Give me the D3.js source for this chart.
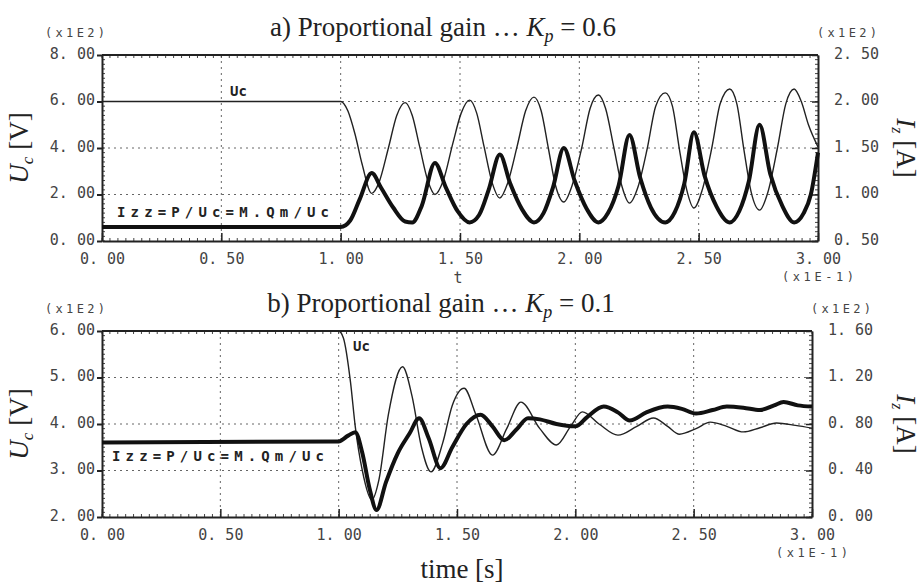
<!DOCTYPE html>
<html>
<head>
<meta charset="utf-8">
<script src="https://cdn.jsdelivr.net/npm/d3@7"></script>
<style>
  body { margin: 0; background: #fff; }
  .tick-lbl { font-family: "DejaVu Sans Mono", monospace; font-size: 15px; fill: #444; }
  .exp-lbl { font-family: "DejaVu Sans Mono", monospace; font-size: 12px; fill: #444; }
  .ser-lbl { font-family: "DejaVu Sans Mono", monospace; font-size: 14px; font-weight: bold; fill: #222; }
  .title { font-family: "Liberation Serif", "Times New Roman", serif; font-size: 27px; fill: #222; }
</style>
</head>
<body>
<div id="chart"></div>
<script>
// time axis (x 0.1 s), shared by both panels
const timeTicks = [0, 0.5, 1.0, 1.5, 2.0, 2.5, 3.0];

// panel a) Kp = 0.6 : Uc [x100 V] on the left, Izz [x100 A] on the right
const ucTicksA = [0, 2, 4, 6, 8];
const izTicksA = [0.5, 1.0, 1.5, 2.0, 2.5];
const ucTimeA = [0, 1.0, 1.03, 1.06, 1.09, 1.13, 1.16, 1.2, 1.235, 1.27, 1.30, 1.33, 1.365, 1.395, 1.43, 1.47, 1.505, 1.54, 1.57, 1.60, 1.635, 1.667, 1.70, 1.74, 1.775, 1.81, 1.84, 1.87, 1.90, 1.935, 1.97, 2.01, 2.045, 2.08, 2.11, 2.145, 2.18, 2.21, 2.245, 2.285, 2.32, 2.36, 2.39, 2.42, 2.45, 2.48, 2.515, 2.555, 2.59, 2.63, 2.66, 2.69, 2.72, 2.755, 2.79, 2.83, 2.865, 2.90, 2.93, 2.96, 3.0];
const ucValA  = [6.0, 6.0, 5.6, 4.6, 3.3, 2.05, 2.5, 4.0, 5.4, 5.95, 5.4, 4.1, 2.6, 2.0, 2.6, 4.2, 5.5, 6.06, 5.5, 4.1, 2.5, 1.85, 2.5, 4.1, 5.6, 6.19, 5.6, 4.0, 2.4, 1.68, 2.4, 4.0, 5.7, 6.28, 5.7, 4.0, 2.3, 1.63, 2.3, 4.0, 5.8, 6.37, 5.8, 3.9, 2.2, 1.42, 2.2, 4.0, 5.9, 6.54, 5.9, 3.9, 2.1, 1.33, 2.1, 4.0, 5.9, 6.54, 6.0, 5.0, 4.05];
const izTimeA = [0, 1.0, 1.04, 1.08, 1.13, 1.17, 1.22, 1.27, 1.30, 1.34, 1.395, 1.44, 1.49, 1.54, 1.58, 1.62, 1.667, 1.71, 1.76, 1.81, 1.85, 1.89, 1.935, 1.98, 2.03, 2.08, 2.12, 2.165, 2.21, 2.255, 2.30, 2.36, 2.40, 2.44, 2.48, 2.525, 2.575, 2.63, 2.67, 2.71, 2.755, 2.80, 2.85, 2.90, 2.94, 2.97, 3.0];
const izValA  = [0.65, 0.65, 0.72, 0.95, 1.23, 1.07, 0.86, 0.71, 0.70, 0.88, 1.34, 1.08, 0.82, 0.70, 0.78, 1.05, 1.43, 1.12, 0.84, 0.70, 0.80, 1.08, 1.50, 1.15, 0.85, 0.70, 0.80, 1.10, 1.64, 1.18, 0.86, 0.70, 0.81, 1.12, 1.67, 1.20, 0.87, 0.70, 0.82, 1.14, 1.75, 1.22, 0.88, 0.70, 0.80, 1.00, 1.45];

// panel b) Kp = 0.1
const ucTicksB = [2, 3, 4, 5, 6];
const izTicksB = [0, 0.4, 0.8, 1.2, 1.6];
const ucTimeB = [0, 1.0, 1.02, 1.05, 1.07, 1.10, 1.14, 1.17, 1.21, 1.27, 1.31, 1.35, 1.39, 1.44, 1.48, 1.53, 1.58, 1.65, 1.71, 1.77, 1.85, 1.92, 1.98, 2.03, 2.10, 2.18, 2.26, 2.33, 2.39, 2.44, 2.51, 2.57, 2.64, 2.71, 2.78, 2.85, 2.93, 3.0];
const ucValB  = [6.0, 6.0, 5.85, 4.9, 3.95, 3.0, 2.37, 2.8, 4.2, 5.23, 4.6, 3.5, 2.97, 3.6, 4.4, 4.77, 4.2, 3.33, 3.9, 4.47, 3.9, 3.55, 3.95, 4.26, 4.0, 3.76, 3.95, 4.13, 3.95, 3.78, 3.9, 4.04, 3.95, 3.83, 3.92, 4.02, 3.97, 3.91];
const izTimeB = [0, 1.0, 1.04, 1.07, 1.10, 1.13, 1.16, 1.20, 1.25, 1.30, 1.34, 1.38, 1.43, 1.48, 1.54, 1.60, 1.65, 1.70, 1.75, 1.80, 1.85, 1.92, 2.0, 2.05, 2.12, 2.18, 2.23, 2.30, 2.39, 2.45, 2.51, 2.58, 2.64, 2.71, 2.78, 2.84, 2.88, 2.94, 3.0];
const izValB  = [0.64, 0.65, 0.70, 0.73, 0.55, 0.25, 0.06, 0.30, 0.55, 0.72, 0.85, 0.68, 0.42, 0.60, 0.80, 0.88, 0.78, 0.66, 0.75, 0.85, 0.84, 0.80, 0.78, 0.86, 0.95, 0.90, 0.83, 0.90, 0.95, 0.93, 0.89, 0.92, 0.95, 0.94, 0.92, 0.96, 0.99, 0.96, 0.95];

const svg = d3.select("#chart")
  .append("svg")
    .attr("width", 924)
    .attr("height", 586);

const fmt = d => d3.format(".2f")(d).replace(".", ". ");

function drawPanel(p) {
  const x = d3.scaleLinear().domain([0, 3]).range([p.left, p.right]);
  const yL = d3.scaleLinear().domain(p.ucDomain).range([p.bottom, p.top]);
  const yR = d3.scaleLinear().domain(p.izDomain).range([p.bottom, p.top]);
  const g = svg.append("g");

  // dotted grid
  g.selectAll(".hgrid").data(p.ucTicks.slice(1, -1)).join("line")
    .attr("x1", p.left).attr("x2", p.right)
    .attr("y1", d => yL(d)).attr("y2", d => yL(d))
    .attr("stroke", "#666").attr("stroke-width", 1).attr("stroke-dasharray", "2,4");
  g.selectAll(".vgrid").data(timeTicks.slice(1, -1)).join("line")
    .attr("x1", d => x(d)).attr("x2", d => x(d))
    .attr("y1", p.top).attr("y2", p.bottom)
    .attr("stroke", "#666").attr("stroke-width", 1).attr("stroke-dasharray", "2,4");

  // minor ticks on all four sides, pointing in
  const minorX = d3.range(0, 3.0001, 0.5 / 15);
  const minorY = d3.range(0, 1.0001, 1 / 40);
  g.selectAll(".mx").data(minorX).join("path")
    .attr("d", d => `M${x(d)},${p.top}v3M${x(d)},${p.bottom}v-3`)
    .attr("stroke", "#444").attr("stroke-width", 1);
  g.selectAll(".my").data(minorY).join("path")
    .attr("d", d => {
      const yy = p.bottom + (p.top - p.bottom) * d;
      return `M${p.left},${yy}h3M${p.right},${yy}h-3`;
    })
    .attr("stroke", "#444").attr("stroke-width", 1);

  // axes
  g.append("g")
    .attr("transform", `translate(${p.left},0)`)
    .call(d3.axisLeft(yL).tickValues(p.ucTicks).tickFormat(fmt).tickSizeInner(5).tickSizeOuter(0).tickPadding(2))
    .call(a => a.select(".domain").attr("stroke", "#222").attr("stroke-width", 2))
    .call(a => a.selectAll("line").attr("stroke", "#222").attr("stroke-width", 2))
    .call(a => a.selectAll("text").attr("class", "tick-lbl").attr("dy", "0.2em"));
  g.append("g")
    .attr("transform", `translate(${p.right},0)`)
    .call(d3.axisRight(yR).tickValues(p.izTicks).tickFormat(fmt).tickSizeInner(-6).tickSizeOuter(0).tickPadding(16))
    .call(a => a.select(".domain").attr("stroke", "#222").attr("stroke-width", 2))
    .call(a => a.selectAll("line").attr("stroke", "#222").attr("stroke-width", 1.5))
    .call(a => a.selectAll("text").attr("class", "tick-lbl").attr("dy", "0.2em"));
  g.append("g")
    .attr("transform", `translate(0,${p.bottom})`)
    .call(d3.axisBottom(x).tickValues(timeTicks).tickFormat(fmt).tickSizeInner(-8).tickSizeOuter(0).tickPadding(12))
    .call(a => a.select(".domain").attr("stroke", "#222").attr("stroke-width", 2))
    .call(a => a.selectAll("line").attr("stroke", "#222").attr("stroke-width", 1.5))
    .call(a => a.selectAll("text").attr("class", "tick-lbl"));
  g.append("line")
    .attr("x1", p.left).attr("x2", p.right).attr("y1", p.top).attr("y2", p.top)
    .attr("stroke", "#222").attr("stroke-width", 2);

  // curves
  const line = (ys, ts) => d3.line()
    .x((d, i) => x(ts[i]))
    .y(d => ys(d))
    .curve(d3.curveMonotoneX);
  g.append("path")
    .datum(p.ucVal)
    .attr("fill", "none").attr("stroke", "#222").attr("stroke-width", 1.4)
    .attr("d", line(yL, p.ucTime));
  g.append("path")
    .datum(p.izVal)
    .attr("fill", "none").attr("stroke", "#111").attr("stroke-width", 4)
    .attr("stroke-linejoin", "round")
    .attr("d", line(yR, p.izTime));

  // series labels
  g.append("text").attr("class", "ser-lbl")
    .attr("x", p.ucLbl[0]).attr("y", p.ucLbl[1]).text("Uc");
  g.append("text").attr("class", "ser-lbl")
    .attr("x", p.izLbl[0]).attr("y", p.izLbl[1])
    .attr("textLength", 212).attr("lengthAdjust", "spacing")
    .text("Izz=P/Uc=M.Qm/Uc");

  // exponent labels
  g.append("text").attr("class", "exp-lbl")
    .attr("x", 45).attr("y", p.top - 18)
    .attr("textLength", 60).text("(x1E2)");
  g.append("text").attr("class", "exp-lbl")
    .attr("x", p.right - 1).attr("y", p.top - 18)
    .attr("textLength", 60).text("(x1E2)");
  g.append("text").attr("class", "exp-lbl")
    .attr("x", p.right).attr("y", p.bottom + 40)
    .attr("text-anchor", "middle")
    .attr("textLength", 72).text("(x1E-1)");

  // title
  const t = g.append("text").attr("class", "title")
    .attr("x", p.titleX).attr("y", p.top - 19)
    .attr("text-anchor", "middle");
  t.append("tspan").text(p.title + " \u2026 ");
  t.append("tspan").attr("font-style", "italic").text("K");
  t.append("tspan").attr("font-style", "italic").attr("font-size", 18).attr("dy", 6).text("p");
  t.append("tspan").attr("dy", -6).text(" = " + p.kp);

  // y titles
  const yl = g.append("text").attr("class", "title").attr("font-size", 25)
    .attr("transform", `translate(28,${(p.top + p.bottom) / 2}) rotate(-90)`)
    .attr("text-anchor", "middle");
  yl.append("tspan").attr("font-style", "italic").text("U");
  yl.append("tspan").attr("font-style", "italic").attr("font-size", 17).attr("dy", 5).text("c");
  yl.append("tspan").attr("dy", -5).text(" [V]");

  const yr = g.append("text").attr("class", "title").attr("font-size", 24)
    .attr("transform", `translate(897,${(p.top + p.bottom) / 2}) rotate(90)`)
    .attr("text-anchor", "middle");
  yr.append("tspan").attr("font-style", "italic").text("I");
  yr.append("tspan").attr("font-style", "italic").attr("font-size", 16).attr("dy", 5).text("z");
  yr.append("tspan").attr("dy", -5).text(" [A]");
}

drawPanel({
  left: 102, right: 818, top: 55, bottom: 241,
  ucDomain: [0, 8], izDomain: [0.5, 2.5],
  ucTicks: ucTicksA, izTicks: izTicksA,
  ucTime: ucTimeA, ucVal: ucValA, izTime: izTimeA, izVal: izValA,
  ucLbl: [230, 96], izLbl: [117, 217],
  title: "a) Proportional gain", kp: "0.6", titleX: 443
});
drawPanel({
  left: 102, right: 812, top: 331, bottom: 517,
  ucDomain: [2, 6], izDomain: [0, 1.6],
  ucTicks: ucTicksB, izTicks: izTicksB,
  ucTime: ucTimeB, ucVal: ucValB, izTime: izTimeB, izVal: izValB,
  ucLbl: [353, 351], izLbl: [112, 461],
  title: "b) Proportional gain", kp: "0.1", titleX: 441
});

// small axis label under panel a and the common time label
svg.append("text").attr("class", "tick-lbl").attr("font-size", 12)
  .attr("x", 458).attr("y", 283).attr("text-anchor", "middle").text("t");
svg.append("text").attr("class", "title").attr("font-size", 26)
  .attr("x", 462).attr("y", 578).attr("text-anchor", "middle").text("time [s]");
</script>
</body>
</html>
